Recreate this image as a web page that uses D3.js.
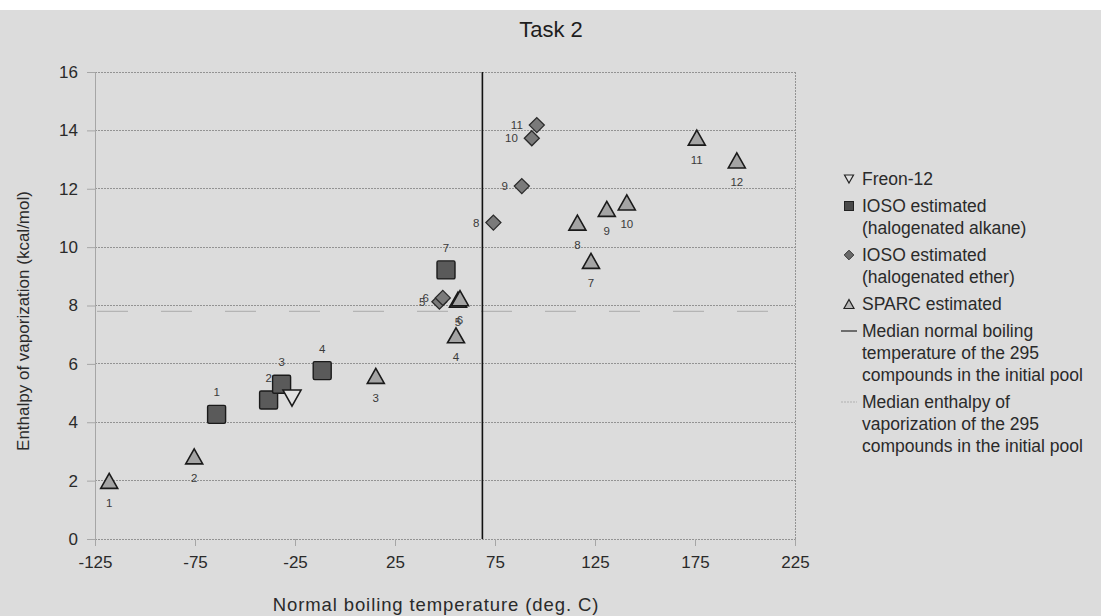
<!DOCTYPE html>
<html>
<head>
<meta charset="utf-8">
<script src="https://cdn.jsdelivr.net/npm/d3@7"></script>
<style>
  html, body { margin: 0; padding: 0; background: #ffffff; }
  svg { display: block; font-family: "Liberation Sans", Arial, sans-serif; }
</style>
</head>
<body>
<svg id="chart" width="1101" height="616"></svg>
<script>
// Freon-12 reference compound
const freonTemp = [-26.5];
const freonEnthalpy = [4.83];

// IOSO estimates, halogenated alkanes
const alkaneIds = [1, 2, 3, 4, 7];
const alkaneTemp = [-64.2, -38.2, -31.7, -11.4, 50.5];
const alkaneEnthalpy = [4.27, 4.76, 5.30, 5.77, 9.22];

// IOSO estimates, halogenated ethers
const etherIds = [5, 6, 8, 9, 10, 11];
const etherTemp = [47.2, 48.9, 74.2, 88.4, 93.4, 95.9];
const etherEnthalpy = [8.13, 8.26, 10.84, 12.09, 13.73, 14.18];

// SPARC estimates
const sparcIds = [1, 2, 3, 4, 5, 6, 7, 8, 9, 10, 11, 12];
const sparcTemp = [-117.9, -75.4, 15.4, 55.5, 56.5, 57.5, 123.0, 116.2, 130.9, 140.9, 175.9, 195.9];
const sparcEnthalpy = [1.99, 2.83, 5.59, 6.98, 8.20, 8.25, 9.53, 10.84, 11.31, 11.53, 13.75, 12.97];

// Medians of the 295 compounds in the initial pool
const medianBoilingTemp = [68.7];
const medianEnthalpy = [7.8];

// Axis ticks
const xTicks = [-125, -75, -25, 25, 75, 125, 175, 225];
const yTicks = [0, 2, 4, 6, 8, 10, 12, 14, 16];

const legendEntries = [
  { key: "freon", lines: ["Freon-12"] },
  { key: "alkane", lines: ["IOSO estimated", "(halogenated alkane)"] },
  { key: "ether", lines: ["IOSO estimated", "(halogenated ether)"] },
  { key: "sparc", lines: ["SPARC estimated"] },
  { key: "medT", lines: ["Median normal boiling", "temperature of the 295", "compounds in the initial pool"] },
  { key: "medH", lines: ["Median enthalpy of", "vaporization of the 295", "compounds in the initial pool"] }
];

const svg = d3.select("#chart");
const W = 1101, H = 616;
const plot = { left: 95, right: 795, top: 72, bottom: 539 };

// chart background
svg.append("rect").attr("x", 0).attr("y", 10).attr("width", W).attr("height", H - 10).attr("fill", "#dcdcdc");

const x = d3.scaleLinear().domain([-125, 225]).range([plot.left, plot.right]);
const y = d3.scaleLinear().domain([0, 16]).range([plot.bottom, plot.top]);

const gridColor = "#939393";

// horizontal gridlines
svg.append("g").selectAll("line").data(yTicks.filter(d => d > 0)).join("line")
  .attr("x1", plot.left).attr("x2", plot.right)
  .attr("y1", d => y(d)).attr("y2", d => y(d))
  .attr("stroke", gridColor).attr("stroke-width", 1).attr("stroke-dasharray", "2,1")
  .attr("shape-rendering", "crispEdges");

// right border of the plot area
svg.append("line")
  .attr("x1", plot.right).attr("x2", plot.right).attr("y1", plot.top).attr("y2", plot.bottom)
  .attr("stroke", gridColor).attr("stroke-dasharray", "2,1").attr("shape-rendering", "crispEdges");

// y axis
const yAxis = svg.append("g").attr("transform", `translate(${plot.left},0)`)
  .call(d3.axisLeft(y).tickValues(yTicks).tickFormat(d => String(d)).tickSize(8).tickPadding(9));
yAxis.select(".domain").attr("stroke", "#a6a6a6");
yAxis.selectAll(".tick line").attr("stroke", "#a6a6a6");
yAxis.selectAll("text").attr("font-size", 17).attr("fill", "#2a2a2a")
  .attr("font-family", "Liberation Sans, Arial, sans-serif");

// x axis
const xAxis = svg.append("g").attr("transform", `translate(0,${plot.bottom})`)
  .call(d3.axisBottom(x).tickValues(xTicks).tickFormat(d => String(d)).tickSize(7).tickPadding(10));
xAxis.select(".domain").attr("stroke", gridColor).attr("stroke-dasharray", "2,1");
xAxis.selectAll(".tick line").attr("stroke", "#a6a6a6");
xAxis.selectAll("text").attr("font-size", 17).attr("fill", "#2a2a2a")
  .attr("font-family", "Liberation Sans, Arial, sans-serif");

// median enthalpy reference line
svg.append("line")
  .attr("x1", plot.left + 2).attr("x2", plot.right - 15)
  .attr("y1", y(medianEnthalpy[0])).attr("y2", y(medianEnthalpy[0]))
  .attr("stroke", "#b4b4b4").attr("stroke-width", 1.2).attr("stroke-dasharray", "31,33");

// median boiling temperature reference line
svg.append("line")
  .attr("x1", x(medianBoilingTemp[0])).attr("x2", x(medianBoilingTemp[0]))
  .attr("y1", plot.top).attr("y2", plot.bottom)
  .attr("stroke", "#111").attr("stroke-width", 1.6);

// marker shapes
const triUp = (w, h) => `M0,${-h / 2}L${w / 2},${h / 2}L${-w / 2},${h / 2}Z`;
const triDown = (w, h) => `M0,${h / 2}L${w / 2},${-h / 2}L${-w / 2},${-h / 2}Z`;
const diamond = r => `M0,${-r}L${r},0L0,${r}L${-r},0Z`;

const labelFont = 11.5;
const labelColor = "#3a3a3a";

// SPARC triangles
const sparc = sparcIds.map((id, i) => ({ id, t: sparcTemp[i], h: sparcEnthalpy[i] }));
const gS = svg.append("g");
gS.selectAll("path").data(sparc).join("path")
  .attr("transform", d => `translate(${x(d.t)},${y(d.h)})`)
  .attr("d", triUp(17, 15))
  .attr("fill", "#a4a4a4").attr("stroke", "#1a1a1a").attr("stroke-width", 1.6).attr("stroke-linejoin", "miter");
gS.selectAll("text").data(sparc).join("text")
  .attr("x", d => x(d.t)).attr("y", d => y(d.h) + 26)
  .attr("text-anchor", "middle").attr("font-size", labelFont).attr("fill", labelColor)
  .text(d => d.id);

// IOSO alkane squares
const alk = alkaneIds.map((id, i) => ({ id, t: alkaneTemp[i], h: alkaneEnthalpy[i] }));
const gA = svg.append("g");
gA.selectAll("rect").data(alk).join("rect")
  .attr("x", d => x(d.t) - 9).attr("y", d => y(d.h) - 9)
  .attr("width", 18).attr("height", 18).attr("rx", 1.5)
  .attr("fill", "#5a5a5a").attr("stroke", "#1a1a1a").attr("stroke-width", 1.4);
gA.selectAll("text").data(alk).join("text")
  .attr("x", d => x(d.t)).attr("y", d => y(d.h) - 18)
  .attr("text-anchor", "middle").attr("font-size", labelFont).attr("fill", labelColor)
  .text(d => d.id);

// Freon-12
const fr = freonTemp.map((t, i) => ({ t, h: freonEnthalpy[i] }));
svg.append("g").selectAll("path").data(fr).join("path")
  .attr("transform", d => `translate(${x(d.t)},${y(d.h)})`)
  .attr("d", triDown(18, 16))
  .attr("fill", "#e2e2e2").attr("stroke", "#1a1a1a").attr("stroke-width", 1.6);

// IOSO ether diamonds
const eth = etherIds.map((id, i) => ({ id, t: etherTemp[i], h: etherEnthalpy[i] }));
const gE = svg.append("g");
gE.selectAll("path").data(eth).join("path")
  .attr("transform", d => `translate(${x(d.t)},${y(d.h)})`)
  .attr("d", diamond(7.5))
  .attr("fill", "#7a7a7a").attr("stroke", "#2a2a2a").attr("stroke-width", 1.3);
gE.selectAll("text").data(eth).join("text")
  .attr("x", d => x(d.t) - 14).attr("y", d => y(d.h) + 4)
  .attr("text-anchor", "end").attr("font-size", labelFont).attr("fill", labelColor)
  .text(d => d.id);

// title
svg.append("text").attr("x", 551).attr("y", 37).attr("text-anchor", "middle")
  .attr("font-size", 22).attr("fill", "#1e1e1e").text("Task 2");

// axis titles
svg.append("text").attr("x", 436).attr("y", 611).attr("text-anchor", "middle")
  .attr("font-size", 18.5).attr("letter-spacing", "0.9px").attr("fill", "#2a2a2a")
  .text("Normal boiling temperature (deg. C)");
svg.append("text").attr("transform", "translate(29,321) rotate(-90)").attr("text-anchor", "middle")
  .attr("font-size", 17).attr("fill", "#2a2a2a")
  .text("Enthalpy of vaporization (kcal/mol)");

// legend
const lg = svg.append("g");
const lineH = 22, entryGap = 5, textX = 862, markX = 849;
let baseY = 185;
legendEntries.forEach(entry => {
  const cy = baseY - 6;
  const m = lg.append("g").attr("transform", `translate(${markX},${cy})`);
  if (entry.key === "freon") {
    m.append("path").attr("d", triDown(9, 8)).attr("fill", "#e2e2e2").attr("stroke", "#222").attr("stroke-width", 1.2);
  } else if (entry.key === "alkane") {
    m.append("rect").attr("x", -4.5).attr("y", -4.5).attr("width", 9).attr("height", 9)
      .attr("fill", "#4a4a4a").attr("stroke", "#222").attr("stroke-width", 1);
  } else if (entry.key === "ether") {
    m.append("path").attr("d", diamond(4.8)).attr("fill", "#6a6a6a").attr("stroke", "#333").attr("stroke-width", 1);
  } else if (entry.key === "sparc") {
    m.append("path").attr("d", triUp(10, 9)).attr("fill", "#b8b8b8").attr("stroke", "#222").attr("stroke-width", 1.2);
  } else if (entry.key === "medT") {
    m.append("line").attr("x1", -8).attr("x2", 8).attr("stroke", "#222").attr("stroke-width", 1.2);
  } else {
    m.append("line").attr("x1", -8).attr("x2", 8).attr("stroke", "#b0b0b0").attr("stroke-width", 1).attr("stroke-dasharray", "2,1");
  }
  entry.lines.forEach((ln, j) => {
    lg.append("text").attr("x", textX).attr("y", baseY + j * lineH)
      .attr("font-size", 17.5).attr("fill", "#2a2a2a").text(ln);
  });
  baseY += entry.lines.length * lineH + entryGap;
});
</script>
</body>
</html>
